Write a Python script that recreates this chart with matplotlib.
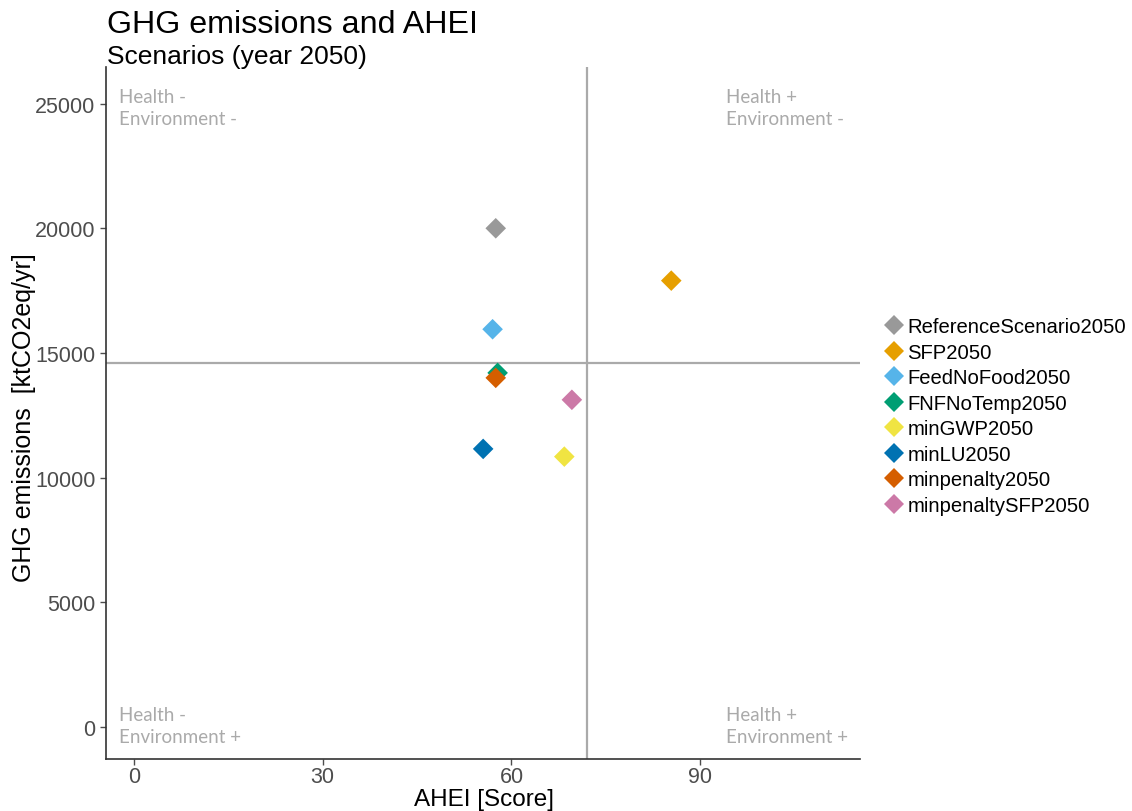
import matplotlib
matplotlib.use("Agg")
import matplotlib.pyplot as plt
from matplotlib.lines import Line2D

scenarios = ["ReferenceScenario2050", "SFP2050", "FeedNoFood2050", "FNFNoTemp2050",
             "minGWP2050", "minLU2050", "minpenalty2050", "minpenaltySFP2050"]
ahei = [57.5, 85.4, 57.0, 57.8, 68.4, 55.5, 57.5, 69.6]
ghg = [20000, 17900, 15950, 14200, 10840, 11150, 14000, 13120]
colors = ["#999999", "#E69F00", "#56B4E9", "#009E73", "#F0E442", "#0072B2", "#D55E00", "#CC79A7"]
vline_x = 72.0
hline_y = 14600
x_ticks = [0, 30, 60, 90]
y_ticks = [0, 5000, 10000, 15000, 20000, 25000]
quadrant_labels = ["Health -\nEnvironment -", "Health +\nEnvironment -",
                   "Health -\nEnvironment +", "Health +\nEnvironment +"]

plt.rcParams['font.family'] = ['Liberation Sans', 'DejaVu Sans']

fig = plt.figure(figsize=(11.32, 8.12), dpi=100)
ax = fig.add_axes([106/1132, 1-760/812, (860-106)/1132, (760-68)/812])

ax.axvline(vline_x, color="#aaaaaa", lw=1.6, zorder=1)
ax.axhline(hline_y, color="#aaaaaa", lw=1.6, zorder=1)

for name, x, y, c in zip(scenarios, ahei, ghg, colors):
    ax.scatter(x, y, marker="D", s=110, color=c, edgecolors="none", zorder=3, label=name)

qfont = dict(color="#aaaaaa", fontsize=13.5, family=["Lato", "DejaVu Sans"], va="center", ha="left", linespacing=1.4)
ax.text(-2.4, 24840, quadrant_labels[0], **qfont)
ax.text(94.1, 24840, quadrant_labels[1], **qfont)
ax.text(-2.4, 60, quadrant_labels[2], **qfont)
ax.text(94.1, 60, quadrant_labels[3], **qfont)

ax.set_xlim(-4.45, 115.4)
ax.set_ylim(-1290, 26470)
ax.set_xticks(x_ticks)
ax.set_yticks(y_ticks)
ax.tick_params(axis="both", colors="#4d4d4d", labelsize=15.5, length=4, width=1)
ax.tick_params(axis="x", pad=1)
for lab in ax.get_xticklabels() + ax.get_yticklabels():
    lab.set_color("#4d4d4d")
for s in ["top", "right"]:
    ax.spines[s].set_visible(False)
for s in ["left", "bottom"]:
    ax.spines[s].set_color("#333333")
    ax.spines[s].set_linewidth(1.2)

ax.set_ylabel("GHG emissions  [ktCO2eq/yr]", fontsize=18, va="center")
ax.yaxis.set_label_coords((24-106)/754, (760-418)/692)
fig.text(484/1132, 1-806/812, "AHEI [Score]", fontsize=17.5, va="baseline", ha="center")

fig.text(107/1132, 1-25/812, "GHG emissions and AHEI", fontsize=23.2, va="center", ha="left")
fig.text(107/1132, 1-57/812, "Scenarios (year 2050)", fontsize=19, va="center", ha="left")

handles = [Line2D([], [], marker="D", linestyle="none", markersize=10, color=c, markeredgewidth=0) for c in colors]
fig.legend(handles, scenarios, loc="center left", bbox_to_anchor=(882/1132, 1-417/812),
           frameon=False, fontsize=14.6, handletextpad=0.05, labelspacing=0.32, handlelength=1.2,
           borderaxespad=0, borderpad=0)

fig.savefig("out.png", dpi=100)
